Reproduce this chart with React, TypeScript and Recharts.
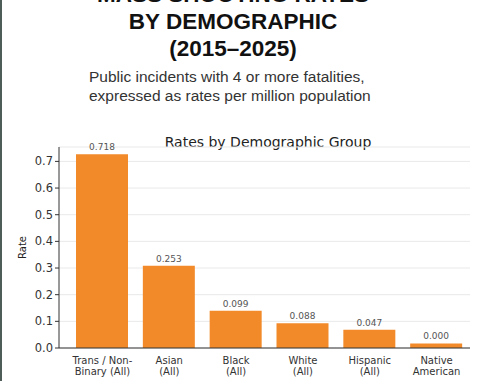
import React from "react";
import { Bar, BarChart, CartesianGrid, LabelList, XAxis, YAxis } from "recharts";

const ORANGE = "#F28A2A";

// bar heights as drawn, and the value text printed above each bar
const groups = ["Trans / Non-Binary (All)", "Asian (All)", "Black (All)", "White (All)", "Hispanic (All)", "Native American"];
const tickTop = ["Trans / Non-", "Asian", "Black", "White", "Hispanic", "Native"];
const tickBottom = ["Binary  (All)", "(All)", "(All)", "(All)", "(All)", "American"];
const rates = [0.727, 0.309, 0.14, 0.093, 0.068, 0.017];
const printed = ["0.718", "0.253", "0.099", "0.088", "0.047", "0.000"];
const yTicks = [0, 0.1, 0.2, 0.3, 0.4, 0.5, 0.6, 0.7];

const data = groups.map((g, i) => ({ group: g, rate: rates[i], shown: printed[i], i }));

const font = "'DejaVu Sans', sans-serif";

function GroupTick(props: any) {
  const { x, y, index } = props;
  return (
    <text x={x} y={y} textAnchor="middle" fill="#333" fontSize={10} fontFamily={font}>
      <tspan x={x} dy={15.5}>{tickTop[index]}</tspan>
      <tspan x={x} dy={11.5}>{tickBottom[index]}</tspan>
    </text>
  );
}

export default function App() {
  return (
    <div style={{ position: "fixed", left: 0, top: 0, width: 478, height: 381, background: "#fff", overflow: "hidden" }}>
      <div style={{ position: "absolute", left: 0, top: 0, width: 2, height: 381, background: "#4f5d58" }} />
      <div
        style={{
          position: "absolute", left: 0, width: 466, top: -19, textAlign: "center",
          fontFamily: "'Liberation Sans', Arial, sans-serif", fontWeight: 700, fontSize: 22.5,
          lineHeight: "27px", color: "#111",
        }}
      >
        <div>MASS SHOOTING RATES</div>
        <div>BY DEMOGRAPHIC</div>
        <div>(2015–2025)</div>
      </div>
      <div
        style={{
          position: "absolute", left: 89, top: 67, fontFamily: "'Liberation Sans', Arial, sans-serif",
          fontSize: 15.5, lineHeight: "19px", color: "#333", whiteSpace: "nowrap",
        }}
      >
        <div>Public incidents with 4 or more fatalities,</div>
        <div>expressed as rates per million population</div>
      </div>
      <div
        style={{
          position: "absolute", left: 0, width: 536, top: 134, textAlign: "center",
          fontFamily: font, fontSize: 14, lineHeight: "16px", color: "#222",
        }}
      >
        Rates by Demographic Group
      </div>
      <div style={{ position: "absolute", left: 0, top: 0 }}>
        <BarChart width={478} height={381} data={data} margin={{ top: 147, right: 8, bottom: 0, left: 19 }} barSize={52}>
          <CartesianGrid vertical={false} stroke="#e9e9e9" />
          <XAxis
            dataKey="group"
            interval={0}
            tick={<GroupTick />}
            tickLine={false}
            tickSize={0}
            tickMargin={0}
            axisLine={{ stroke: "#333" }}
            padding={{ left: 10, right: 0 }}
            height={33}
          />
          <YAxis
            width={40}
            domain={[0, 0.754]}
            ticks={yTicks}
            allowDataOverflow
            tickFormatter={(v) => v.toFixed(1)}
            tick={{ fill: "#333", fontSize: 11.5, fontFamily: font }}
            tickSize={4}
            tickLine={{ stroke: "#333" }}
            axisLine={{ stroke: "#333" }}
            label={{ value: "Rate", angle: -90, position: "insideLeft", offset: 3, fill: "#222", fontSize: 10, fontFamily: font, style: { textAnchor: "middle" } }}
          />
          <Bar dataKey="rate" fill={ORANGE} isAnimationActive={false}>
            <LabelList dataKey="shown" position="top" offset={4} fill="#555" fontSize={9} fontFamily={font} />
          </Bar>
        </BarChart>
      </div>
    </div>
  );
}
